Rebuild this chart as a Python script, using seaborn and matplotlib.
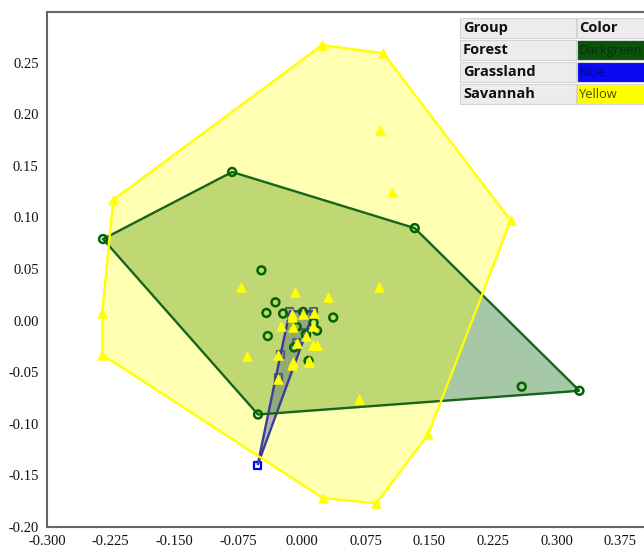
import numpy as np
import pandas as pd
import matplotlib.pyplot as plt
from matplotlib.patches import Polygon, Rectangle
import seaborn as sns

sns.set_style("white")
plt.rcParams['font.family'] = ['Liberation Serif', 'DejaVu Serif']
plt.rcParams['axes.unicode_minus'] = False

# ---- data ----
table_groups = ["Forest", "Grassland", "Savannah"]
color_names = {"Forest": "Darkgreen", "Grassland": "Blue", "Savannah": "Yellow"}

forest_x = [-0.234, -0.082, 0.133, 0.327, -0.0515, 0.259, -0.0475, -0.031, -0.0416, -0.022,
            0.0016, 0.014, 0.018, 0.037, -0.040, -0.006, -0.009, 0.008, 0.005]
forest_y = [0.079, 0.144, 0.0896, -0.068, -0.091, -0.064, 0.0487, 0.0177, 0.0074, 0.0068,
            0.0084, -0.002, -0.0097, 0.003, -0.015, -0.006, -0.026, -0.039, -0.0135]

grass_x = [-0.052, -0.014, 0.014, 0.005, -0.025, -0.027, -0.006]
grass_y = [-0.140, 0.009, 0.009, -0.012, -0.033, -0.055, -0.021]

sav_x = [0.024, 0.096, 0.246, 0.149, 0.088, 0.025, -0.235, -0.235, -0.222,
         0.092, 0.106, 0.091, 0.0675, -0.071, -0.065,
         -0.0075, 0.031, -0.011, -0.011, 0.0015, 0.014, -0.024, -0.010, 0.013,
         0.005, -0.006, 0.013, 0.018, -0.028, -0.010, 0.008, -0.028, -0.011, 0.009]
sav_y = [0.267, 0.259, 0.097, -0.110, -0.177, -0.172, -0.033, 0.007, 0.117,
         0.185, 0.125, 0.033, -0.076, 0.033, -0.034,
         0.028, 0.023, 0.006, 0.003, 0.006, 0.007, -0.005, -0.006, -0.005,
         -0.015, -0.022, -0.024, -0.024, -0.033, -0.040, -0.040, -0.057, -0.043, -0.039]

df = pd.concat([
    pd.DataFrame({"x": forest_x, "y": forest_y, "group": "Forest"}),
    pd.DataFrame({"x": grass_x, "y": grass_y, "group": "Grassland"}),
    pd.DataFrame({"x": sav_x, "y": sav_y, "group": "Savannah"}),
])

colors = {"Forest": "#006400", "Grassland": "#0000ff", "Savannah": "#ffff00"}
edge_colors = {"Forest": "#15651a", "Grassland": "#3b3b9e", "Savannah": "#ffff00"}
cell_colors = {"Forest": "#0b520b", "Grassland": "#0a0af0", "Savannah": "#ffff00"}
cell_text = {"Forest": "#0a300a", "Grassland": "#08087a", "Savannah": "#4a4a00"}
fill_alpha = {"Forest": 0.35, "Grassland": 0.4, "Savannah": 0.3}
# drawing order (bottom to top)
fill_z = {"Grassland": 2, "Forest": 3, "Savannah": 4}
edge_z = {"Grassland": 5, "Forest": 6, "Savannah": 7}
point_z = {"Grassland": 2.5, "Forest": 8, "Savannah": 9}


def convex_hull(pts):
    pts = sorted(set(pts))
    def cross(o, a, b):
        return (a[0] - o[0]) * (b[1] - o[1]) - (a[1] - o[1]) * (b[0] - o[0])
    lower, upper = [], []
    for p in pts:
        while len(lower) >= 2 and cross(lower[-2], lower[-1], p) <= 0:
            lower.pop()
        lower.append(p)
    for p in reversed(pts):
        while len(upper) >= 2 and cross(upper[-2], upper[-1], p) <= 0:
            upper.pop()
        upper.append(p)
    return lower[:-1] + upper[:-1]


W, H = 644, 548
fig = plt.figure(figsize=(W / 100, H / 100), dpi=100)
ax = fig.add_axes([47 / W, 21 / H, 1 - 47 / W, (527 - 12) / H])

for g in table_groups:
    sub = df[df.group == g]
    hull = convex_hull(list(zip(sub.x, sub.y)))
    ax.add_patch(Polygon(hull, closed=True, facecolor=colors[g], alpha=fill_alpha[g],
                         edgecolor='none', zorder=fill_z[g]))
    ax.add_patch(Polygon(hull, closed=True, facecolor='none', edgecolor=edge_colors[g],
                         linewidth=1.7, zorder=edge_z[g]))
    if g == "Forest":
        sns.scatterplot(data=sub, x="x", y="y", ax=ax, marker='o', s=32, facecolors='none',
                        edgecolor=colors[g], linewidth=1.8, zorder=point_z[g], legend=False)
    elif g == "Grassland":
        sns.scatterplot(data=sub, x="x", y="y", ax=ax, marker='s', s=26, facecolors='none',
                        edgecolor=colors[g], linewidth=1.6, zorder=point_z[g], legend=False)
    else:
        sns.scatterplot(data=sub, x="x", y="y", ax=ax, marker='^', s=48, color=colors[g],
                        edgecolor=colors[g], linewidth=0.5, zorder=point_z[g], legend=False)

ax.set_xlim(-0.3, 0.403)
ax.set_ylim(-0.2, 0.299)
xt = np.round(np.linspace(-0.3, 0.375, 10), 3)
yt = np.round(np.linspace(-0.2, 0.25, 10), 2)
ax.set_xticks(xt)
ax.set_xticklabels(["%.3f" % v for v in xt])
ax.set_yticks(yt)
ax.set_yticklabels(["%.2f" % v for v in yt])
ax.tick_params(axis='both', direction='out', length=4, width=1.2, color='#555555',
               labelsize=10.5, pad=2, labelcolor='#111111')
ax.set_xlabel("")
ax.set_ylabel("")
for s in ["left", "bottom", "top"]:
    ax.spines[s].set_color('#666666')
    ax.spines[s].set_linewidth(1.5)
ax.spines["right"].set_visible(False)

# ---- legend table (top right) ----
def px(x0, y0, w, h):
    return (x0 / W, 1 - (y0 + h) / H), w / W, h / H

tfont = ['Open Sans', 'DejaVu Sans']
c1, c2, cw1, cw2 = 460, 577, 116, 80
rows = [("Group", "Color")] + [(g, color_names[g]) for g in table_groups]
row_top = [18, 40, 62, 84]
for r, (lab, col) in enumerate(rows):
    y0 = row_top[r]
    h = 20
    xy, w, hh = px(c1, y0, cw1, h)
    fig.add_artist(Rectangle(xy, w, hh, transform=fig.transFigure, facecolor='#ececec',
                             edgecolor='#d4d4d4', linewidth=0.8, zorder=20))
    fig.text((c1 + 3) / W, 1 - (y0 + h / 2) / H, lab, family=tfont, fontweight='bold',
             fontsize=10.5, va='center', ha='left', color='#111111', zorder=21)
    xy, w, hh = px(c2, y0, cw2, h)
    if r == 0:
        fc, tc, fw, fs = '#ececec', '#111111', 'bold', 10.5
    else:
        fc, tc, fw, fs = cell_colors[lab], cell_text[lab], 'normal', 9.3
    fig.add_artist(Rectangle(xy, w, hh, transform=fig.transFigure, facecolor=fc,
                             edgecolor='#d4d4d4', linewidth=0.8, zorder=20))
    fig.text((c2 + 2) / W, 1 - (y0 + h / 2) / H, col, family=tfont, fontweight=fw,
             fontsize=fs, va='center', ha='left', color=tc, zorder=21)

fig.savefig("out.png", dpi=100)
